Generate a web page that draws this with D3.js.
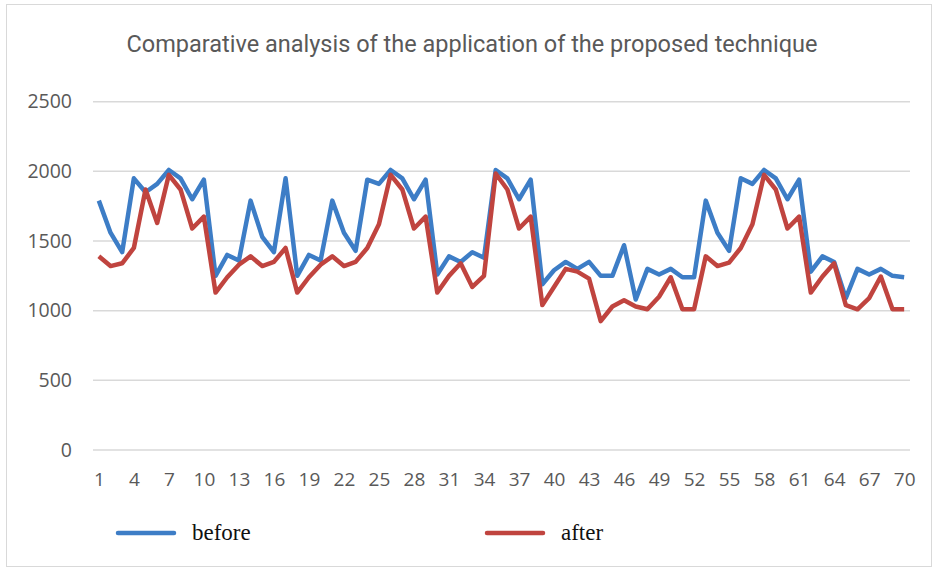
<!DOCTYPE html>
<html>
<head>
<meta charset="utf-8">
<script src="https://cdn.jsdelivr.net/npm/d3@7"></script>
<style>
  html, body { margin: 0; padding: 0; background: #fff; }
  svg { display: block; }
</style>
</head>
<body>
<svg id="chart" width="939" height="567"></svg>
<script>
const title = "Comparative analysis of the application of the proposed technique";
const categories = d3.range(1, 71);
const yTicks = [0, 500, 1000, 1500, 2000, 2500];
const xTickLabels = d3.range(1, 71, 3);
const seriesNames = ["before", "after"];
const before = [1790,1560,1420,1950,1850,1910,2010,1950,1800,1940,
                1250,1400,1360,1790,1530,1420,1950,1250,1400,1360,
                1790,1560,1430,1940,1910,2010,1950,1800,1940,1260,
                1390,1350,1420,1380,2010,1950,1800,1940,1190,1290,
                1350,1300,1350,1250,1250,1470,1080,1300,1260,1300,
                1240,1240,1790,1560,1430,1950,1910,2010,1950,1800,
                1940,1280,1390,1350,1090,1300,1260,1300,1250,1240];
const after = [1390,1320,1340,1450,1870,1630,1975,1870,1590,1675,
               1130,1240,1330,1390,1320,1350,1450,1130,1240,1330,
               1390,1320,1350,1450,1620,1975,1870,1590,1675,1130,
               1250,1340,1170,1250,1985,1870,1590,1675,1040,1170,
               1300,1280,1230,925,1030,1075,1030,1010,1100,1240,
               1010,1010,1390,1320,1345,1450,1620,1975,1870,1590,
               1675,1130,1245,1340,1040,1010,1090,1245,1010,1010];

const colors = { before: "#3d7dc6", after: "#c0443f" };
const textColor = "#595959";

const svg = d3.select("#chart");

// outer border
svg.append("rect")
  .attr("x", 6.5).attr("y", 4.5).attr("width", 925).attr("height", 562)
  .attr("fill", "#fff").attr("stroke", "#d9d9d9").attr("stroke-width", 1);

const x = d3.scalePoint().domain(categories).range([93, 910]).padding(0.5);
const y = d3.scaleLinear().domain([0, 2500]).range([450, 101.7]);

// gridlines
svg.append("g").selectAll("line").data(yTicks).join("line")
  .attr("x1", 93).attr("x2", 910)
  .attr("y1", d => y(d)).attr("y2", d => y(d))
  .attr("stroke", "#d9d9d9").attr("stroke-width", 1.5);

// y axis labels
const yAxis = d3.axisLeft(y).tickValues(yTicks).tickFormat(d3.format("d")).tickSize(0).tickPadding(0);
const gy = svg.append("g").attr("transform", "translate(72,0)").call(yAxis);
gy.select(".domain").remove();
gy.selectAll("text")
  .attr("fill", textColor)
  .style("font-family", "'Open Sans', 'Liberation Sans', sans-serif")
  .style("font-size", "19.5px");

// x axis labels
const xAxis = d3.axisBottom(x).tickValues(xTickLabels).tickSize(0).tickPadding(0);
const gx = svg.append("g").attr("transform", "translate(0,472)").call(xAxis);
gx.select(".domain").remove();
gx.selectAll("text")
  .attr("fill", textColor)
  .attr("dy", "0.71em")
  .style("font-family", "'Open Sans', 'Liberation Sans', sans-serif")
  .style("font-size", "19px");

// lines
const line = d3.line().x((d, i) => x(categories[i])).y(d => y(d));
const data = { before, after };
seriesNames.forEach(name => {
  svg.append("path")
    .datum(data[name])
    .attr("fill", "none")
    .attr("stroke", colors[name])
    .attr("stroke-width", 4.5)
    .attr("stroke-linejoin", "round")
    .attr("d", line);
});

// title
svg.append("text")
  .attr("x", 472).attr("y", 52)
  .attr("text-anchor", "middle")
  .attr("fill", textColor)
  .style("font-family", "Roboto, 'Liberation Sans', sans-serif")
  .style("font-size", "23.5px")
  .text(title);

// legend
const legendPos = [{ name: "before", x: 118 }, { name: "after", x: 487 }];
const lg = svg.append("g").selectAll("g").data(legendPos).join("g")
  .attr("transform", d => `translate(${d.x},533)`);
lg.append("line")
  .attr("x1", 0).attr("x2", 56).attr("y1", 0).attr("y2", 0)
  .attr("stroke", d => colors[d.name]).attr("stroke-width", 4.5).attr("stroke-linecap", "round");
lg.append("text")
  .attr("x", 74).attr("y", 7)
  .attr("fill", "#111")
  .style("font-family", "'Liberation Serif', 'Times New Roman', serif")
  .style("font-size", "23px")
  .text(d => d.name);
</script>
</body>
</html>
